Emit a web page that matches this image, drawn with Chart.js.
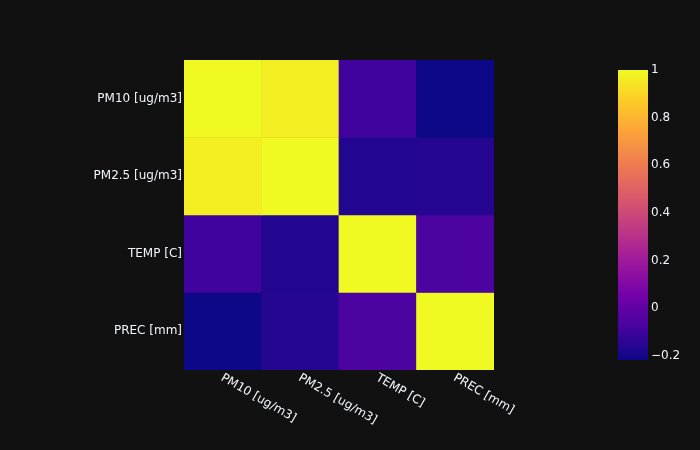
<!DOCTYPE html>
<html>
<head>
<meta charset="utf-8">
<script src="https://cdn.jsdelivr.net/npm/chart.js@4/dist/chart.umd.min.js"></script>
<style>
  html, body { margin: 0; padding: 0; background: #111111; }
  #wrap { position: relative; width: 700px; height: 450px; background: #111111; }
  #main { position: absolute; left: 0; top: 0; }
  #cbar { position: absolute; left: 600px; top: 0; }
</style>
</head>
<body>
<div id="wrap">
  <canvas id="main" width="700" height="450"></canvas>
  <canvas id="cbar" width="100" height="450"></canvas>
</div>
<script>
// ---- data ----
const variables = ['PM10 [ug/m3]', 'PM2.5 [ug/m3]', 'TEMP [C]', 'PREC [mm]'];
const rowPM10 = [1.000, 0.970, -0.094, -0.217];
const rowPM25 = [0.970, 1.000, -0.167, -0.162];
const rowTEMP = [-0.094, -0.167, 1.000, -0.064];
const rowPREC = [-0.217, -0.162, -0.064, 1.000];
const rows = [rowPM10, rowPM25, rowTEMP, rowPREC];
const zMin = -0.217;
const zMax = 1;
const colorbarTicks = [-0.2, 0, 0.2, 0.4, 0.6, 0.8, 1];

// ---- styling ----
const plasma = ['#0d0887', '#46039f', '#7201a8', '#9c179e', '#bd3786',
                '#d8576b', '#ed7953', '#fb9f3a', '#fdca26', '#f0f921'];
function hexToRgb(h) {
  return [parseInt(h.slice(1, 3), 16), parseInt(h.slice(3, 5), 16), parseInt(h.slice(5, 7), 16)];
}
function plasmaColor(t) {
  t = Math.max(0, Math.min(1, t));
  const pos = t * (plasma.length - 1);
  const i = Math.min(Math.floor(pos), plasma.length - 2);
  const f = pos - i;
  const a = hexToRgb(plasma[i]), b = hexToRgb(plasma[i + 1]);
  const c = a.map((v, k) => Math.round(v + (b[k] - v) * f));
  return `rgb(${c[0]},${c[1]},${c[2]})`;
}
const norm = v => (v - zMin) / (zMax - zMin);

const textColor = '#f2f5fa';
const fontFamily = "'DejaVu Sans', Verdana, sans-serif";
Chart.defaults.font.family = fontFamily;
Chart.defaults.font.size = 12;
Chart.defaults.color = textColor;

const n = variables.length;

// x labels drawn rotated (30deg clockwise) at the library's tick positions
const xLabelPlugin = {
  id: 'xLabels',
  afterDraw(chart) {
    const xs = chart.scales.x;
    const ctx = chart.ctx;
    ctx.save();
    ctx.fillStyle = textColor;
    ctx.font = "12px " + fontFamily;
    ctx.textAlign = 'left';
    ctx.textBaseline = 'middle';
    variables.forEach((lab, i) => {
      const px = xs.getPixelForTick(i);
      ctx.save();
      ctx.translate(px - 1, xs.top + 7);
      ctx.rotate(Math.PI / 6);
      ctx.fillText(lab, 0, 0);
      ctx.restore();
    });
    ctx.restore();
  }
};

new Chart(document.getElementById('main'), {
  type: 'bar',
  data: {
    labels: variables,
    datasets: rows.map((row, r) => ({
      data: row.map(() => [n - 1 - r, n - r]),
      backgroundColor: ctx => plasmaColor(norm(row[ctx.dataIndex])),
      borderWidth: 0,
      grouped: false,
      barPercentage: 1,
      categoryPercentage: 1
    }))
  },
  options: {
    responsive: false,
    animation: false,
    events: [],
    layout: { padding: { top: 60, right: 206, left: 0, bottom: 0 } },
    plugins: { legend: { display: false }, tooltip: { enabled: false } },
    scales: {
      x: {
        type: 'category',
        offset: true,
        grid: { display: false, drawTicks: false },
        border: { display: false },
        ticks: { display: false },
        afterFit: s => { s.height = 80; }
      },
      y: {
        type: 'linear',
        min: 0,
        max: n,
        grid: { display: false, drawTicks: false },
        border: { display: false },
        afterBuildTicks: s => { s.ticks = variables.map((_, i) => ({ value: i + 0.5 })); },
        ticks: {
          padding: 2,
          callback: v => variables[n - 1 - Math.floor(v)]
        },
        afterFit: s => { s.width = 184; }
      }
    }
  },
  plugins: [xLabelPlugin]
});

// colorbar
new Chart(document.getElementById('cbar'), {
  type: 'bar',
  data: {
    labels: [''],
    datasets: [{
      data: [[zMin, zMax]],
      backgroundColor: ctx => {
        const ca = ctx.chart.chartArea;
        if (!ca) return plasma[0];
        const g = ctx.chart.ctx.createLinearGradient(0, ca.bottom, 0, ca.top);
        plasma.forEach((c, i) => g.addColorStop(i / (plasma.length - 1), c));
        return g;
      },
      borderWidth: 0,
      barPercentage: 1,
      categoryPercentage: 1
    }]
  },
  options: {
    responsive: false,
    animation: false,
    events: [],
    layout: { padding: { top: 70, bottom: 90, left: 18, right: 0 } },
    plugins: { legend: { display: false }, tooltip: { enabled: false } },
    scales: {
      x: { display: false, offset: true },
      y: {
        position: 'right',
        min: zMin,
        max: zMax,
        grid: { display: false, drawTicks: false },
        border: { display: false },
        afterBuildTicks: s => { s.ticks = colorbarTicks.map(v => ({ value: v })); },
        ticks: {
          padding: 3,
          callback: v => (v < 0 ? '\u2212' + Math.abs(v) : String(v))
        },
        afterFit: s => { s.width = 52; }
      }
    }
  }
});
</script>
</body>
</html>
